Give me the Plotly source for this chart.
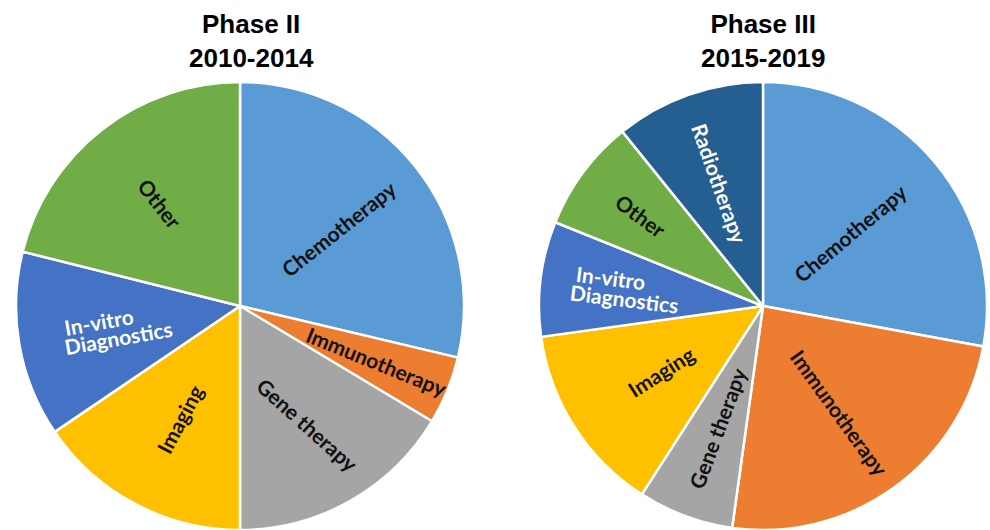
import math
import plotly.graph_objects as go

# Share of projects per technology area (percent of each phase)
phase2_labels = ["Chemotherapy", "Immunotherapy", "Gene therapy", "Imaging",
                 "In-vitro Diagnostics", "Other"]
phase2_values = [28.7, 4.9, 16.4, 15.5, 13.4, 21.1]

phase3_labels = ["Chemotherapy", "Immunotherapy", "Gene therapy", "Imaging",
                 "In-vitro Diagnostics", "Other", "Radiotherapy"]
phase3_values = [27.9, 24.3, 6.9, 13.7, 8.3, 8.1, 10.8]

phase_titles = ["Phase II<br>2010-2014", "Phase III<br>2015-2019"]

# ---- styling ----
colors = {
    "Chemotherapy": "#5B9BD5",
    "Immunotherapy": "#ED7D31",
    "Gene therapy": "#A5A5A5",
    "Imaging": "#FFC000",
    "In-vitro Diagnostics": "#4472C4",
    "Other": "#70AD47",
    "Radiotherapy": "#255E91",
}
light_text = {"In-vitro Diagnostics", "Radiotherapy"}
label_lines = {"In-vitro Diagnostics": ["In-vitro", "Diagnostics"]}

# how far out (fraction of the radius) each slice label sits
label_radius = [
    {"Chemotherapy": 0.56, "Immunotherapy": 0.66, "Gene therapy": 0.61,
     "Imaging": 0.57, "In-vitro Diagnostics": 0.56, "Other": 0.58},
    {"Chemotherapy": 0.51, "Immunotherapy": 0.59, "Gene therapy": 0.58,
     "Imaging": 0.54, "In-vitro Diagnostics": 0.62, "Other": 0.68,
     "Radiotherapy": 0.58},
]
# labels turned away from the pure radial direction (degrees)
label_angle_override = [{"Gene therapy": 42}, {}]

W, H = 990, 530
R = 224                               # pie radius in px
centers = [(240, 306), (763, 306)]    # pie centres in px (from top-left)
title_x = [251, 763]
FONT_SIZE = 21
LINE_GAP = 19
CHAR_W = 0.5 * FONT_SIZE              # rough width of one character


def radial_labels(labels, values, cx, cy, radii, overrides):
    total = float(sum(values))
    start = 0.0
    out = []
    for lab, val in zip(labels, values):
        sweep = 360.0 * val / total
        mid = start + sweep / 2.0
        start += sweep
        a = math.radians(mid)
        dx, dy = math.sin(a), -math.cos(a)        # clockwise from 12 o'clock
        r = radii[lab] * R
        px, py = cx + r * dx, cy + r * dy
        # keep the radial text readable (left to right)
        rx, ry = (dx, dy) if dx >= 0 else (-dx, -dy)
        ang = overrides.get(lab, math.degrees(math.atan2(ry, rx)))
        t = math.radians(ang)
        ux, uy = math.cos(t), math.sin(t)          # along the text
        nx, ny = -math.sin(t), math.cos(t)         # towards the next line
        lines = label_lines.get(lab, [lab])
        longest = max(len(s) for s in lines)
        n = len(lines)
        for i, line in enumerate(lines):
            off = (i - (n - 1) / 2.0) * LINE_GAP
            shift = (len(line) - longest) * CHAR_W / 2.0   # left-align lines
            lx = px + off * nx + shift * ux
            ly = py + off * ny + shift * uy
            out.append(dict(
                text="<b>%s</b>" % line,
                x=lx / W, y=1 - ly / H, xref="paper", yref="paper",
                xanchor="center", yanchor="middle", showarrow=False,
                textangle=ang,
                font=dict(family="Lato", size=FONT_SIZE,
                          color="white" if lab in light_text else "#111111"),
            ))
    return out


fig = go.Figure()
datasets = [(phase2_labels, phase2_values), (phase3_labels, phase3_values)]
for k, ((labels, values), (cx, cy)) in enumerate(zip(datasets, centers)):
    fig.add_trace(go.Pie(
        labels=labels,
        values=values,
        sort=False,
        direction="clockwise",
        rotation=0,
        textinfo="none",
        marker=dict(colors=[colors[l] for l in labels],
                    line=dict(color="white", width=2.5)),
        domain=dict(x=[(cx - R) / W, (cx + R) / W],
                    y=[(H - cy - R) / H, (H - cy + R) / H]),
        showlegend=False,
        hoverinfo="label+percent",
    ))
    for ann in radial_labels(labels, values, cx, cy, label_radius[k], label_angle_override[k]):
        fig.add_annotation(**ann)
    fig.add_annotation(
        text="<b>%s</b>" % phase_titles[k], x=title_x[k] / W, y=1 - 41 / H,
        xref="paper", yref="paper", xanchor="center", yanchor="middle",
        showarrow=False,
        font=dict(family="Liberation Sans", size=26, color="black"),
    )

fig.update_layout(
    width=W, height=H,
    margin=dict(l=0, r=0, t=0, b=0),
    paper_bgcolor="white",
    plot_bgcolor="white",
)

fig.write_html("out.html")
